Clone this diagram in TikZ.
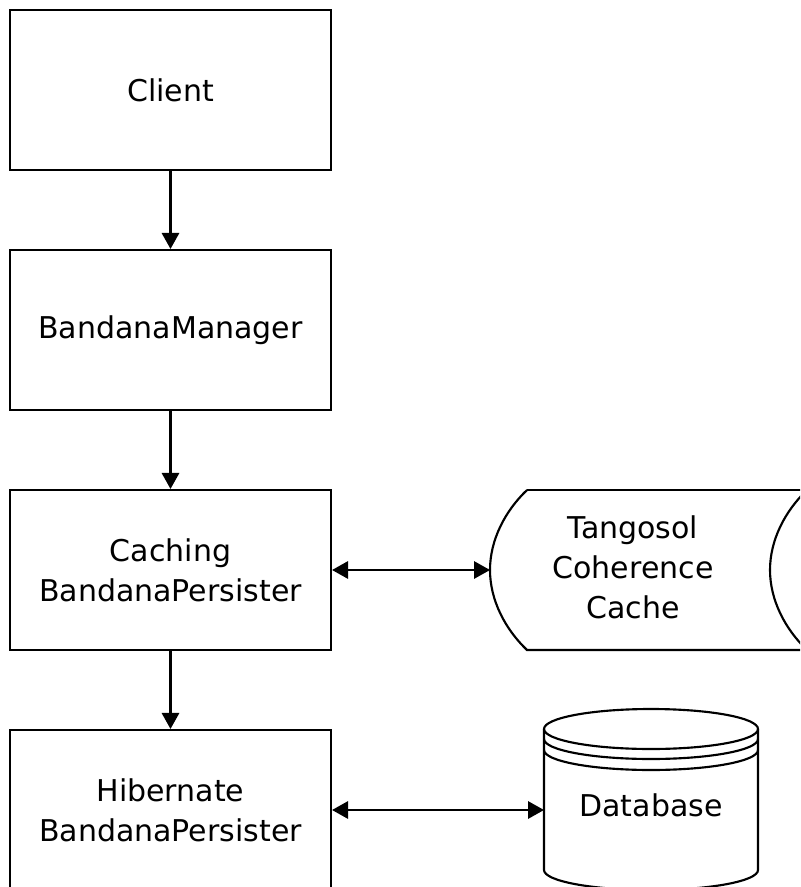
\documentclass[tikz,border=0pt]{standalone}
\usepackage{fontspec}
\setmainfont{DejaVu Sans}
\usetikzlibrary{arrows.meta}

\tikzset{every picture/.style={line width=1.6pt}}
\tikzset{
  box/.style={draw, minimum width=240.75pt, minimum height=120pt, inner sep=0pt,
    align=center, font=\fontsize{22.5}{30}\selectfont},
  label/.style={align=center, inner sep=0pt, font=\fontsize{22.5}{30}\selectfont},
  conn/.style={-{Triangle[length=12pt,width=13pt]}},
  biconn/.style={{Triangle[length=12pt,width=13pt]}-{Triangle[length=12pt,width=13pt]}}
}

\begin{document}
\begin{tikzpicture}[x=0.75pt,y=0.75pt,yscale=-1,xscale=1]
\useasboundingbox (0,0) rectangle (800,887);
\clip (0,0) rectangle (800,887);

% Boxes
\node [box] (client) at (170.5,90) {Client};
\node [box] (manager) at (170.5,330) {BandanaManager};
\node [box] (caching) at (170.5,570) {Caching\\BandanaPersister};
\node [box] (hibernate) at (170.5,810) {Hibernate\\BandanaPersister};

%Shape: Stored data
\draw (527,490) .. controls (505,511) and (490,540) .. (490,570) .. controls (490,600) and (505,629) .. (527,650) -- (830,650) ;
\draw (527,490) -- (830,490) ;
\draw (807,490) .. controls (785,511) and (770,540) .. (770,570) .. controls (770,600) and (785,629) .. (807,650) ;
\coordinate (cache) at (490,570);
\node [label] (cachetext) at (633,567) {Tangosol\\Coherence\\Cache};

%Shape: Database
\draw (651,729) ellipse (107 and 20) ;
\draw (544,739) arc [start angle=180, end angle=0, x radius=107, y radius=20] ;
\draw (544,750) arc [start angle=180, end angle=0, x radius=107, y radius=20] ;
\draw (544,729) -- (544,870) arc [start angle=180, end angle=0, x radius=107, y radius=20] -- (758,729) ;
\coordinate (db) at (544,810);
\node [label] (dbtext) at (651,805) {Database};

% Connectors
\draw [conn] (client) -- (manager);
\draw [conn] (manager) -- (caching);
\draw [conn] (caching) -- (hibernate);
\draw [biconn] (caching) -- (cache);
\draw [biconn] (hibernate) -- (db);

\end{tikzpicture}
\end{document}
